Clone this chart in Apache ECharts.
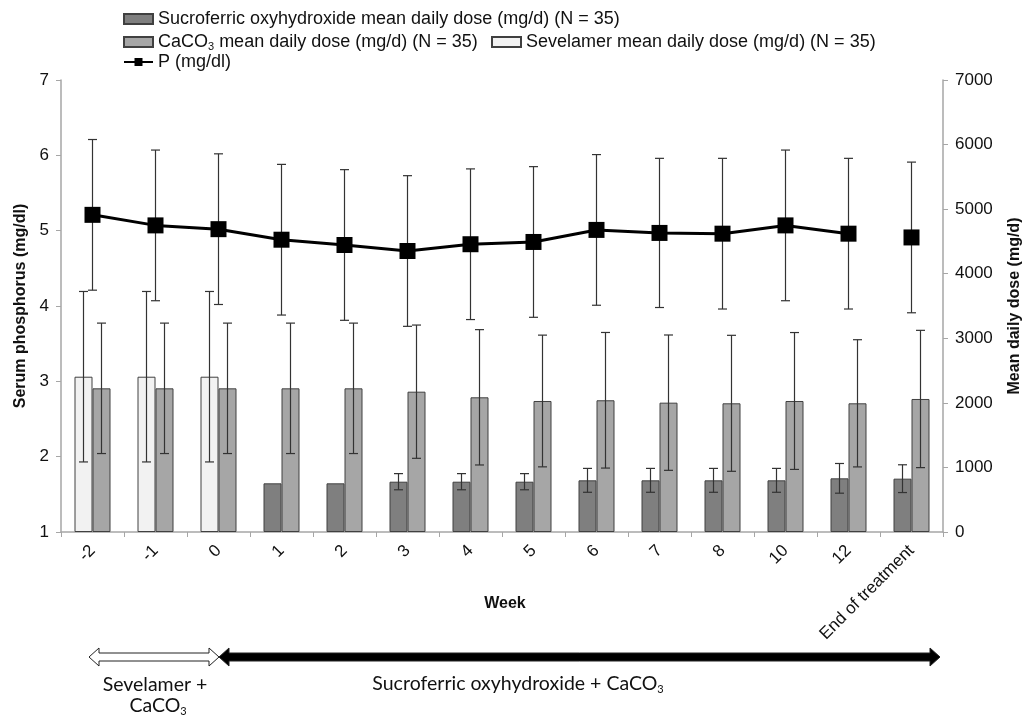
<!DOCTYPE html>
<html>
<head>
<meta charset="utf-8">
<script src="https://cdn.jsdelivr.net/npm/echarts@6/dist/echarts.min.js"></script>
<style>
  html, body { margin: 0; padding: 0; background: #fff; }
  #chart { width: 1032px; height: 715px; }
</style>
</head>
<body>
<div id="chart"></div>
<script>
var weeks = ["-2", "-1", "0", "1", "2", "3", "4", "5", "6", "7", "8", "10", "12", "End of treatment"];

// dose (mg/d), right axis
var sucroMean = [null, null, null, 754, 754, 779, 779, 779, 800, 800, 800, 800, 831, 826];
var sucroSD = [null, null, null, null, null, 125, 125, 125, 185, 185, 185, 185, 230, 215];
var caco3Mean = [2225, 2225, 2225, 2225, 2225, 2173, 2086, 2029, 2040, 2003, 1993, 2029, 1993, 2060];
var caco3SD = [1010, 1010, 1010, 1010, 1010, 1032, 1048, 1020, 1050, 1048, 1053, 1060, 985, 1063];
var sevelamerMean = [2405, 2405, 2405, null, null, null, null, null, null, null, null, null, null, null];
var sevelamerSD = [1320, 1320, 1320, null, null, null, null, null, null, null, null, null, null, null];

// serum phosphorus (mg/dl), left axis
var pMean = [5.21, 5.07, 5.02, 4.88, 4.81, 4.73, 4.82, 4.85, 5.01, 4.97, 4.96, 5.07, 4.96, 4.91];
var pSD = [1.0, 1.0, 1.0, 1.0, 1.0, 1.0, 1.0, 1.0, 1.0, 0.99, 1.0, 1.0, 1.0, 1.0];

var SUCRO = "Sucroferric oxyhydroxide mean daily dose (mg/d) (N = 35)";
var CACO3 = "CaCO3 mean daily dose (mg/d) (N = 35)";
var SEVEL = "Sevelamer mean daily dose (mg/d) (N = 35)";
var PNAME = "P (mg/dl)";

var FONT = "Liberation Sans";
var BAR_W = 18;
var CAP = 4.5;
var AXIS_GRAY = "#a6a6a6";

function errorSeries(mean, sd, yAxisIndex, shift) {
  var data = [];
  mean.forEach(function(m, i) {
    if(m != null && sd[i] != null) {
      data.push([i, m - sd[i], m + sd[i]]);
    }
  });
  return {
    type: "custom",
    yAxisIndex: yAxisIndex,
    silent: true,
    z: 5,
    data: data,
    encode: {x: 0, y: [1, 2]},
    renderItem: function(params, api) {
      var lo = api.coord([api.value(0), api.value(1)]);
      var hi = api.coord([api.value(0), api.value(2)]);
      var x = lo[0] + shift;
      var style = {stroke: "#333", lineWidth: 1.2};
      return {
        type: "group",
        children: [
          {type: "line", shape: {x1: x, y1: lo[1], x2: x, y2: hi[1]}, style: style},
          {type: "line", shape: {x1: x - CAP, y1: hi[1], x2: x + CAP, y2: hi[1]}, style: style},
          {type: "line", shape: {x1: x - CAP, y1: lo[1], x2: x + CAP, y2: lo[1]}, style: style}
        ]
      };
    }
  };
}

function barSeries(name, data, color, stack) {
  return {
    type: "bar",
    name: name,
    yAxisIndex: 1,
    stack: stack,
    barWidth: BAR_W,
    barGap: "0%",
    data: data,
    itemStyle: {color: color, borderColor: "#404040", borderWidth: 1},
    z: 2
  };
}

function doubleArrow(x1, x2, cy, fill) {
  var sh = 4, hh = 9, hl = 10;
  return {
    type: "polygon",
    shape: {
      points: [
        [x1, cy], [x1 + hl, cy - hh], [x1 + hl, cy - sh], [x2 - hl, cy - sh], [x2 - hl, cy - hh],
        [x2, cy], [x2 - hl, cy + hh], [x2 - hl, cy + sh], [x1 + hl, cy + sh], [x1 + hl, cy + hh]
      ]
    },
    style: {fill: fill, stroke: "#222", lineWidth: 1}
  };
}

var legendText = {fontFamily: FONT, fontSize: 18, color: "#111"};
var legendCommon = {
  orient: "horizontal",
  itemWidth: 29,
  itemHeight: 10,
  padding: 0,
  selectedMode: false,
  textStyle: legendText
};

function legendAt(left, top, data, extra) {
  return Object.assign({left: left, top: top, data: data}, legendCommon, extra || {});
}

var subRich = {
  a: {fontFamily: FONT, fontSize: 18, color: "#111", lineHeight: 20},
  s: {fontFamily: FONT, fontSize: 11, color: "#111", lineHeight: 8, verticalAlign: "bottom"}
};

var calibriRich = {
  a: {font: "19.5px Lato", fill: "#111", lineHeight: 22},
  s: {font: "11px Lato", fill: "#111", lineHeight: 8, verticalAlign: "bottom"}
};

var pLine = pMean.map(function(v, i) { return i < pMean.length - 1 ? v : null; });
var pLast = pMean.map(function(v, i) { return i === pMean.length - 1 ? v : null; });

var chart = echarts.init(document.getElementById("chart"), null, {renderer: "canvas"});

var axisTitle = {fontFamily: FONT, fontSize: 16, fontWeight: "bold", color: "#111"};
var tickLabel = {fontFamily: FONT, fontSize: 17, color: "#111", margin: 12};

var options = {
  animation: false,
  backgroundColor: "#fff",
  textStyle: {fontFamily: FONT},
  grid: {left: 61, right: 89, top: 80, bottom: 183, containLabel: false},
  legend: [
    legendAt(123, 10, [{name: SUCRO, icon: "rect"}]),
    legendAt(123, 33, [{name: CACO3, icon: "rect"}], {
      formatter: "{a|CaCO}{s|3}{a| mean daily dose (mg/d) (N = 35)}",
      textStyle: Object.assign({rich: subRich}, legendText)
    }),
    legendAt(491, 33, [{name: SEVEL, icon: "rect"}]),
    legendAt(123, 53, [{name: PNAME}])
  ],
  xAxis: {
    type: "category",
    data: weeks,
    axisLine: {lineStyle: {color: AXIS_GRAY, width: 1.5}},
    axisTick: {show: true, length: 5, lineStyle: {color: AXIS_GRAY}},
    axisLabel: Object.assign({rotate: 45, interval: 0}, tickLabel, {margin: 16})
  },
  yAxis: [
    {
      type: "value",
      min: 1,
      max: 7,
      interval: 1,
      name: "Serum phosphorus (mg/dl)",
      nameLocation: "middle",
      nameRotate: 90,
      nameGap: 27,
      nameTextStyle: axisTitle,
      axisLine: {show: true, lineStyle: {color: AXIS_GRAY, width: 1.5}},
      axisTick: {show: true, length: 5, lineStyle: {color: AXIS_GRAY}},
      axisLabel: tickLabel,
      splitLine: {show: false}
    },
    {
      type: "value",
      min: 0,
      max: 7000,
      interval: 1000,
      name: "Mean daily dose (mg/d)",
      nameLocation: "middle",
      nameRotate: 90,
      nameGap: 64,
      nameTextStyle: axisTitle,
      axisLine: {show: true, lineStyle: {color: AXIS_GRAY, width: 1.5}},
      axisTick: {show: true, length: 5, lineStyle: {color: AXIS_GRAY}},
      axisLabel: Object.assign({formatter: function(v) { return String(v); }}, tickLabel),
      splitLine: {show: false}
    }
  ],
  series: [
    barSeries(SUCRO, sucroMean, "#7f7f7f", "left"),
    barSeries(CACO3, caco3Mean, "#a6a6a6", null),
    barSeries(SEVEL, sevelamerMean, "#f2f2f2", "left"),
    errorSeries(sucroMean, sucroSD, 1, -BAR_W / 2),
    errorSeries(sevelamerMean, sevelamerSD, 1, -BAR_W / 2),
    errorSeries(caco3Mean, caco3SD, 1, BAR_W / 2),
    errorSeries(pMean, pSD, 0, 0),
    {
      type: "line",
      name: PNAME,
      yAxisIndex: 0,
      data: pLine,
      symbol: "rect",
      symbolSize: 16,
      lineStyle: {color: "#000", width: 3},
      itemStyle: {color: "#000"},
      z: 10
    },
    {
      type: "line",
      name: PNAME,
      yAxisIndex: 0,
      data: pLast,
      symbol: "rect",
      symbolSize: 16,
      showSymbol: true,
      lineStyle: {color: "#000", width: 3},
      itemStyle: {color: "#000"},
      z: 10
    }
  ],
  graphic: [
    {
      type: "text",
      x: 505,
      y: 604,
      style: {text: "Week", font: "bold 16px " + FONT, fill: "#111", align: "center", verticalAlign: "middle"}
    },
    doubleArrow(89, 219, 657, "#fff"),
    doubleArrow(219, 940, 657, "#000"),
    {
      type: "text",
      x: 155,
      y: 685,
      style: {text: "Sevelamer +", font: "19.5px Lato", fill: "#111", align: "center", verticalAlign: "middle"}
    },
    {
      type: "text",
      x: 158,
      y: 706,
      style: {text: "{a|CaCO}{s|3}", rich: calibriRich, align: "center", verticalAlign: "middle"}
    },
    {
      type: "text",
      x: 518,
      y: 684,
      style: {text: "{a|Sucroferric oxyhydroxide + CaCO}{s|3}", rich: calibriRich, align: "center", verticalAlign: "middle"}
    }
  ]
};

chart.setOption(options);
</script>
</body>
</html>
